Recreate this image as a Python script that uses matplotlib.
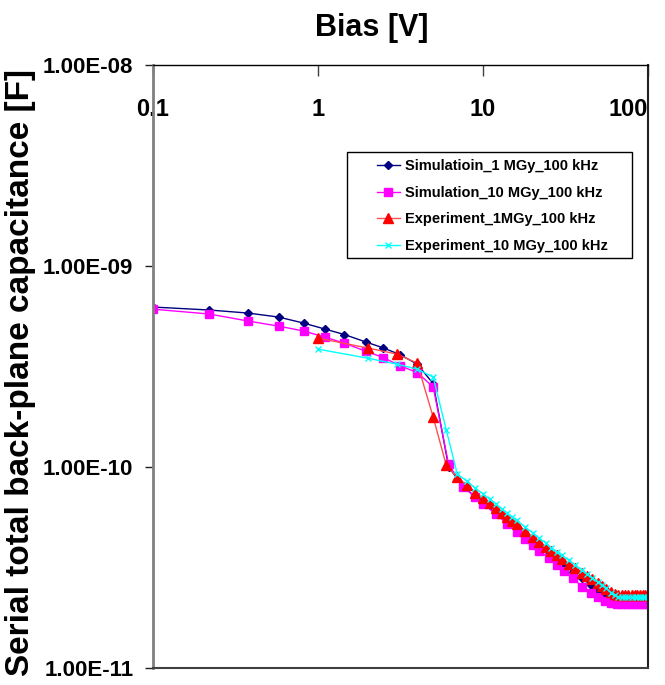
import matplotlib
matplotlib.use("Agg")
import matplotlib.pyplot as plt
from matplotlib.ticker import FixedLocator, NullLocator, FixedFormatter
from matplotlib.patches import Rectangle

plt.rcParams['font.family'] = ['Liberation Sans', 'DejaVu Sans']
plt.rcParams['font.weight'] = 'bold'

# ---------------- data ----------------
sim_bias = [0.1, 0.22, 0.38, 0.58, 0.82, 1.1, 1.45, 1.95, 2.5, 3.15, 4.0, 5.0, 6.2, 7.6,
            9, 10, 12, 14, 16, 18, 20, 22, 25, 28, 31, 35, 40, 45, 50, 55, 60, 65,
            70, 75, 80, 85, 90, 95, 100]
sim_1mgy = [6.25e-10, 6.04e-10, 5.83e-10, 5.57e-10, 5.2e-10, 4.86e-10, 4.56e-10, 4.19e-10,
            3.91e-10, 3.62e-10, 3.25e-10, 2.6e-10, 1.0e-10, 8.0e-11,
            7.1e-11, 6.62e-11, 5.89e-11, 5.32e-11, 4.88e-11, 4.52e-11, 4.22e-11, 3.97e-11,
            3.65e-11, 3.45e-11, 3.24e-11, 3.01e-11, 2.79e-11, 2.59e-11, 2.43e-11, 2.3e-11,
            2.2e-11, 2.15e-11, 2.15e-11, 2.15e-11, 2.15e-11, 2.15e-11, 2.15e-11, 2.15e-11, 2.15e-11]
sim_10mgy = [6.1e-10, 5.77e-10, 5.32e-10, 5.02e-10, 4.75e-10, 4.43e-10, 4.13e-10, 3.77e-10,
             3.5e-10, 3.19e-10, 2.95e-10, 2.5e-10, 1.03e-10, 7.95e-11,
             7.08e-11, 6.58e-11, 5.81e-11, 5.23e-11, 4.77e-11, 4.4e-11, 4.09e-11, 3.84e-11,
             3.52e-11, 3.25e-11, 3.03e-11, 2.79e-11, 2.54e-11, 2.36e-11, 2.25e-11, 2.16e-11,
             2.11e-11, 2.09e-11, 2.08e-11, 2.08e-11, 2.08e-11, 2.08e-11, 2.08e-11, 2.08e-11, 2.08e-11]

exp_bias = [1, 2, 3, 4, 5, 6, 7, 8, 9, 10, 11, 12, 13, 14, 15, 16, 18, 20, 22, 24, 26, 28,
            30, 33, 36, 40, 43, 46, 50, 53, 56, 60, 63, 66, 70, 73, 76, 80, 83, 86, 90,
            93, 96, 100]
exp_1mgy = [4.38e-10, 3.91e-10, 3.65e-10, 3.29e-10, 1.77e-10, 1.02e-10, 8.9e-11, 8.1e-11,
            7.43e-11, 7.02e-11, 6.6e-11, 6.24e-11, 5.93e-11, 5.65e-11, 5.41e-11, 5.19e-11,
            4.82e-11, 4.5e-11, 4.24e-11, 4.01e-11, 3.8e-11, 3.63e-11, 3.49e-11, 3.31e-11,
            3.16e-11, 2.98e-11, 2.86e-11, 2.76e-11, 2.64e-11, 2.55e-11, 2.48e-11, 2.39e-11,
            2.34e-11, 2.31e-11, 2.3e-11, 2.3e-11, 2.3e-11, 2.3e-11, 2.3e-11, 2.3e-11, 2.3e-11,
            2.3e-11, 2.3e-11, 2.3e-11]
exp_10mgy = [3.86e-10, 3.48e-10, 3.25e-10, 3.07e-10, 2.8e-10, 1.53e-10, 9.2e-11, 8.5e-11,
             7.85e-11, 7.34e-11, 6.9e-11, 6.53e-11, 6.2e-11, 5.91e-11, 5.65e-11, 5.42e-11,
             5.03e-11, 4.7e-11, 4.42e-11, 4.18e-11, 3.96e-11, 3.79e-11, 3.64e-11, 3.44e-11,
             3.26e-11, 3.06e-11, 2.93e-11, 2.81e-11, 2.67e-11, 2.58e-11, 2.49e-11, 2.37e-11,
             2.3e-11, 2.26e-11, 2.25e-11, 2.25e-11, 2.25e-11, 2.25e-11, 2.25e-11, 2.25e-11,
             2.25e-11, 2.25e-11, 2.25e-11, 2.25e-11]

labels = ["Simulatioin_1 MGy_100 kHz", "Simulation_10 MGy_100 kHz",
          "Experiment_1MGy_100 kHz", "Experiment_10 MGy_100 kHz"]
x_ticks = [0.1, 1, 10, 100]
x_tick_labels = ["0.1", "1", "10", "100"]
y_ticks = [1e-11, 1e-10, 1e-9, 1e-8]
y_tick_labels = ["1.00E-11", "1.00E-10", "1.00E-09", "1.00E-08"]

# ---------------- figure ----------------
W, H = 665, 685
fig = plt.figure(figsize=(W / 100, H / 100), dpi=100)
ax = fig.add_axes([152.7 / W, 1 - 668 / H, (648 - 152.7) / W, (668 - 65) / H])

ax.plot(sim_bias, sim_1mgy, color='#000080', lw=1.0, marker='D', ms=4.5,
        mfc='#000080', mec='#000080', label=labels[0])
ax.plot(sim_bias, sim_10mgy, color='#FF00FF', lw=1.0, marker='s', ms=6,
        mfc='#FF00FF', mec='#FF00FF', label=labels[1])
ax.plot(exp_bias, exp_1mgy, color='#FF5050', lw=1.0, marker='^', ms=7,
        mfc='#FF0000', mec='#FF0000', label=labels[2])
ax.plot(exp_bias, exp_10mgy, color='#00FFFF', lw=1.0, marker='x', ms=4, mew=1.0,
        mfc='#00FFFF', mec='#00FFFF', label=labels[3])

ax.set_xscale('log')
ax.set_yscale('log')
ax.set_xlim(0.1, 100)
ax.set_ylim(1e-11, 1e-8)

ax.xaxis.set_major_locator(FixedLocator(x_ticks))
ax.xaxis.set_major_formatter(FixedFormatter(x_tick_labels))
ax.xaxis.set_minor_locator(NullLocator())
ax.yaxis.set_major_locator(FixedLocator(y_ticks))
ax.yaxis.set_major_formatter(FixedFormatter(y_tick_labels))
ax.yaxis.set_minor_locator(NullLocator())

ax.tick_params(axis='x', top=True, labeltop=True, bottom=False, labelbottom=False,
               direction='in', length=8, width=1, color='#404040', pad=-40,
               labelsize=17)
ax.tick_params(axis='y', left=True, right=False, direction='out', length=6, width=1,
               color='#202020', labelsize=16, pad=8)
for lab in ax.get_xticklabels() + ax.get_yticklabels():
    lab.set_fontweight('bold')
xl = ax.get_xticklabels()
xl[-1].set_horizontalalignment('right')

ax.spines['left'].set_color('#808080')
ax.spines['left'].set_linewidth(2)
ax.spines['bottom'].set_color('#404040')
ax.spines['bottom'].set_linewidth(1.5)
ax.spines['top'].set_color('#000000')
ax.spines['top'].set_linewidth(1.0)
ax.spines['right'].set_color('#202020')
ax.spines['right'].set_linewidth(1.5)

ax.set_ylabel("Serial total back-plane capacitance [F]", fontsize=24, fontweight='bold')
ax.yaxis.label.set_va('center')
ax.yaxis.set_label_coords(-0.266, 0.49)

fig.text(372 / W, 1 - 28 / H, "Bias [V]", ha='center', va='center',
         fontsize=22, fontweight='bold')

# legend frame (Excel-style box with generous side padding)
frame = Rectangle((347 / W, 1 - 258 / H), 285 / W, 106 / H, transform=fig.transFigure,
                  facecolor='white', edgecolor='black', lw=1.0, zorder=4)
ax.add_patch(frame)
frame.set_clip_on(False)

leg = ax.legend(loc='upper left', bbox_to_anchor=(377 / W, 1 - 159 / H),
                bbox_transform=fig.transFigure, frameon=False, fontsize=10.5,
                handlelength=1.55, handletextpad=0.4, labelspacing=0.87,
                borderpad=0, borderaxespad=0)
leg.set_zorder(5)
for t in leg.get_texts():
    t.set_fontweight('bold')

fig.savefig("out.png", dpi=100)
